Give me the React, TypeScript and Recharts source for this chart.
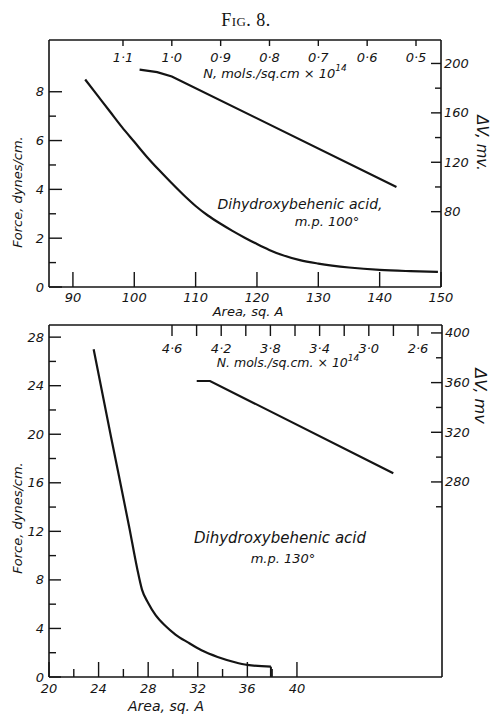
import React from 'react';
import { LineChart, Line, XAxis, YAxis } from 'recharts';

// Upper panel: m.p. 100° acid
const topArea = [92, 94, 96, 98, 100, 102, 104, 106, 108, 110, 112, 114, 116, 118, 120, 122, 124, 127, 130, 135, 140, 145, 149.5];
const topForce = [8.5, 7.85, 7.2, 6.55, 5.95, 5.35, 4.8, 4.28, 3.78, 3.32, 2.93, 2.6, 2.3, 2.02, 1.76, 1.52, 1.32, 1.1, 0.96, 0.8, 0.7, 0.65, 0.62];
const topN = [1.066, 1.03, 1.0, 0.54];
const topDV = [195, 193, 189.5, 100];

// Lower panel: m.p. 130° acid
const botArea = [23.6, 25.0, 26.5, 27.1, 27.5, 28.0, 28.6, 29.4, 30.2, 31.2, 32.3, 33.6, 35.0, 36.0, 37.9];
const botForce = [27.0, 19.8, 12.2, 9.0, 7.2, 6.1, 5.1, 4.2, 3.5, 2.85, 2.2, 1.65, 1.22, 1.0, 0.85];
const botDropArea = [37.9, 37.9];
const botDropForce = [0.85, 0];
const botN = [4.399, 4.291, 2.801];
const botDV = [361.3, 361.3, 287];

// Tick lists
const topAreaTicks = [90, 100, 110, 120, 130, 140, 150];
const topForceTicks = [0, 1, 2, 3, 4, 5, 6, 7, 8];
const topForceLabels = [0, 2, 4, 6, 8];
const topDVTicks = [80, 100, 120, 140, 160, 180, 200];
const topDVLabels = [80, 120, 160, 200];
const topNTicks = [1.1, 1.0, 0.9, 0.8, 0.7, 0.6, 0.5];

const botAreaTicks = [20, 22, 24, 26, 28, 30, 32, 34, 36, 38, 40];
const botAreaLabels = [20, 24, 28, 32, 36, 40];
const botForceTicks = [0, 2, 4, 6, 8, 10, 12, 14, 16, 18, 20, 22, 24, 26, 28];
const botForceLabels = [0, 4, 8, 12, 16, 20, 24, 28];
const botDVTicks = [260, 280, 300, 320, 340, 360, 380, 400];
const botDVLabels = [280, 320, 360, 400];
const botNTicks = [4.6, 4.4, 4.2, 4.0, 3.8, 3.6, 3.4, 3.2, 3.0, 2.8, 2.6];
const botNLabels = [4.6, 4.2, 3.8, 3.4, 3.0, 2.6];

const zip = (xs: number[], ys: number[]) => xs.map((x, i) => ({ x, y: ys[i] }));

const INK = '#141414';
const FONT = '"DejaVu Sans", sans-serif';

const fmtInt = (v: number) => String(v);
const fmtN = (v: number) => v.toFixed(1).replace('.', '·');

type Side = 'left' | 'right' | 'top' | 'bottom';

function makeTick(side: Side, major: number, minor: number, labels: number[], fmt: (v: number) => string, off: number) {
  return (props: any) => {
    const { x, y, payload } = props;
    const v = payload.value as number;
    const isMajor = labels.some((l) => Math.abs(l - v) < 1e-6);
    const len = isMajor ? major : minor;
    let line: [number, number, number, number];
    let tx = x;
    let ty = y;
    let anchor: 'start' | 'middle' | 'end' = 'middle';
    if (side === 'left') {
      line = [x, y, x + len, y];
      tx = x - off;
      ty = y + 4.5;
      anchor = 'end';
    } else if (side === 'right') {
      line = [x - len, y, x, y];
      tx = x + off;
      ty = y + 4.5;
      anchor = 'start';
    } else if (side === 'bottom') {
      line = [x, y - len, x, y];
      ty = y + off;
    } else {
      line = [x, y, x, y + len];
      ty = y + off;
    }
    return (
      <g>
        <line x1={line[0]} y1={line[1]} x2={line[2]} y2={line[3]} stroke={INK} strokeWidth={1.4} />
        {isMajor && (
          <text x={tx} y={ty} textAnchor={anchor} fontFamily={FONT} fontStyle="italic" fontSize={13} fill={INK}>
            {fmt(v)}
          </text>
        )}
      </g>
    );
  };
}

const axisCommon = {
  type: 'number' as const,
  dataKey: 'x',
  allowDataOverflow: true,
  tickLine: false,
  tickSize: 0,
  tickMargin: 0,
  interval: 0 as const,
  axisLine: { stroke: INK, strokeWidth: 1.6 },
};
const yCommon = {
  type: 'number' as const,
  allowDataOverflow: true,
  tickLine: false,
  tickSize: 0,
  tickMargin: 0,
  interval: 0 as const,
  axisLine: { stroke: INK, strokeWidth: 1.6 },
};

const txt = { fontFamily: FONT, fontStyle: 'italic' as const, fill: INK };

function TopPanel() {
  return (
    <LineChart width={492} height={320} margin={{ top: 0, right: 0, bottom: 0, left: 0 }}>
      <XAxis {...axisCommon} xAxisId="area" orientation="bottom" height={33} domain={[86.1, 150]} ticks={topAreaTicks}
        tick={makeTick('bottom', 15, 15, topAreaTicks, fmtInt, 15)} />
      <XAxis {...axisCommon} xAxisId="n" orientation="top" height={40} domain={[0.4488, 1.2515]} reversed ticks={topNTicks}
        tick={makeTick('top', 6, 6, topNTicks, fmtN, 22)} />
      <YAxis {...yCommon} yAxisId="f" orientation="left" width={49} domain={[0, 10.12]} ticks={topForceTicks}
        tick={makeTick('left', 13, 7, topForceLabels, fmtInt, 5)} />
      <YAxis {...yCommon} yAxisId="dv" orientation="right" width={51} domain={[19, 219]} ticks={topDVTicks}
        tick={makeTick('right', 10, 6, topDVLabels, fmtInt, 3)} />
      <Line xAxisId="area" yAxisId="f" data={zip(topArea, topForce)} dataKey="y" type="monotone"
        stroke={INK} strokeWidth={2.2} dot={false} isAnimationActive={false} />
      <Line xAxisId="n" yAxisId="dv" data={zip(topN, topDV)} dataKey="y" type="linear"
        stroke={INK} strokeWidth={2.2} dot={false} isAnimationActive={false} />
      <text x={17} y={192} transform="rotate(-90 17 192)" textAnchor="middle" dominantBaseline="central" fontSize={13} {...txt}>
        Force, dynes/cm.
      </text>
      <text x={248} y={316} textAnchor="middle" fontSize={13} {...txt}>Area, sq. A</text>
      <text x={275} y={78} textAnchor="middle" fontSize={13} {...txt}>
        N, mols./sq.cm × 10<tspan dy={-7} fontSize={9}>14</tspan>
      </text>
      <text x={482} y={143} transform="rotate(90 482 143)" textAnchor="middle" dominantBaseline="central" fontSize={15} {...txt}>
        ΔV, mv.
      </text>
      <text x={300} y={209} textAnchor="middle" fontSize={14} {...txt}>Dihydroxybehenic acid,</text>
      <text x={327} y={226} textAnchor="middle" fontSize={13} {...txt}>m.p. 100°</text>
    </LineChart>
  );
}

function BottomPanel() {
  return (
    <LineChart width={492} height={415} margin={{ top: 0, right: 0, bottom: 0, left: 0 }}>
      <XAxis {...axisCommon} xAxisId="area" orientation="bottom" height={38} domain={[20, 51.7]} ticks={botAreaTicks}
        tick={makeTick('bottom', 15, 8, botAreaLabels, fmtInt, 16)} />
      <XAxis {...axisCommon} xAxisId="n" orientation="top" height={25} domain={[2.405, 5.6]} reversed ticks={botNTicks}
        tick={makeTick('top', 11, 11, botNLabels, fmtN, 28)} />
      <YAxis {...yCommon} yAxisId="f" orientation="left" width={49} domain={[0, 29]} ticks={botForceTicks}
        tick={makeTick('left', 12, 7, botForceLabels, fmtInt, 5)} />
      <YAxis {...yCommon} yAxisId="dv" orientation="right" width={50} domain={[122.9, 406.4]} ticks={botDVTicks}
        tick={makeTick('right', 11, 6, botDVLabels, fmtInt, 3)} />
      <Line xAxisId="area" yAxisId="f" data={zip(botArea, botForce)} dataKey="y" type="monotone"
        stroke={INK} strokeWidth={2.2} dot={false} isAnimationActive={false} />
      <Line xAxisId="area" yAxisId="f" data={zip(botDropArea, botDropForce)} dataKey="y" type="linear"
        stroke={INK} strokeWidth={2} dot={false} isAnimationActive={false} />
      <Line xAxisId="n" yAxisId="dv" data={zip(botN, botDV)} dataKey="y" type="linear"
        stroke={INK} strokeWidth={2.2} dot={false} isAnimationActive={false} />
      <text x={17} y={218} transform="rotate(-90 17 218)" textAnchor="middle" dominantBaseline="central" fontSize={13} {...txt}>
        Force, dynes/cm.
      </text>
      <text x={166} y={411} textAnchor="middle" fontSize={14} {...txt}>Area, sq. A</text>
      <text x={288} y={67} textAnchor="middle" fontSize={12.5} {...txt}>
        N. mols./sq.cm. × 10<tspan dy={-6} fontSize={9}>14</tspan>
      </text>
      <text x={480} y={96} transform="rotate(90 480 96)" textAnchor="middle" dominantBaseline="central" fontSize={16} {...txt}>
        ΔV, mv
      </text>
      <text x={280} y={243} textAnchor="middle" fontSize={15} {...txt}>Dihydroxybehenic acid</text>
      <text x={283} y={263} textAnchor="middle" fontSize={13} {...txt}>m.p. 130°</text>
    </LineChart>
  );
}

export default function App() {
  return (
    <div style={{ position: 'absolute', left: 0, top: 0, width: 492, height: 715, background: '#fff' }}>
      <div style={{ position: 'absolute', left: 0, top: 10, width: 492, textAlign: 'center', fontFamily: '"Liberation Serif", serif', fontSize: 18, fontVariant: 'small-caps', letterSpacing: 0.5, color: INK }}>
        Fig. 8.
      </div>
      <div style={{ position: 'absolute', left: 0, top: 0 }}>
        <TopPanel />
      </div>
      <div style={{ position: 'absolute', left: 0, top: 300 }}>
        <BottomPanel />
      </div>
    </div>
  );
}
